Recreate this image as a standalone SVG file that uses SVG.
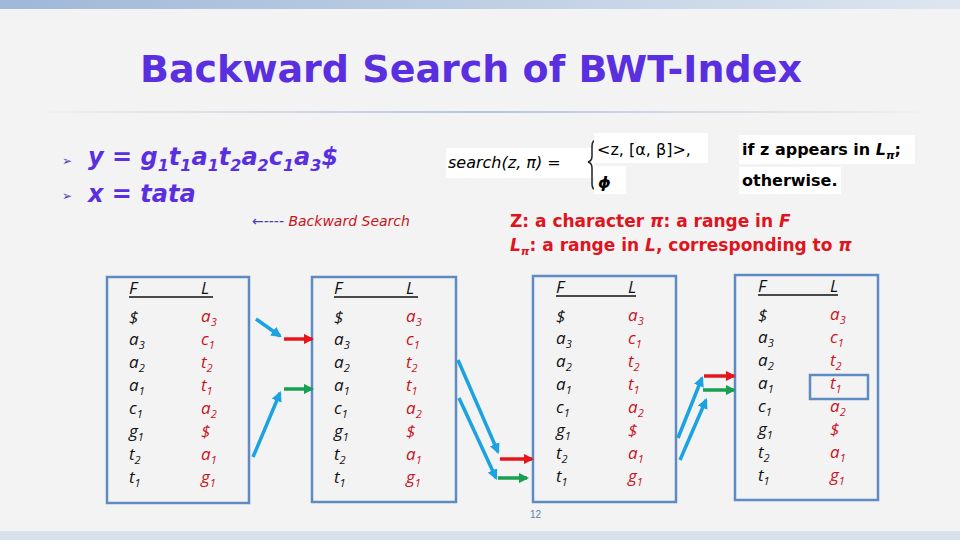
<svg xmlns="http://www.w3.org/2000/svg" width="960" height="540" viewBox="0 0 960 540">
<defs>
<linearGradient id="top" x1="0" x2="1"><stop offset="0" stop-color="#9fb8d8"/><stop offset="1" stop-color="#dde6f0"/></linearGradient>
<linearGradient id="sep" x1="0" x2="1"><stop offset="0" stop-color="#f0f0f2"/><stop offset="0.5" stop-color="#b8c6d8"/><stop offset="1" stop-color="#f0f0f2"/></linearGradient>
<marker id="ab" viewBox="0 0 10 10" refX="8" refY="5" markerWidth="3" markerHeight="3" orient="auto"><path d="M0,0L10,5L0,10z" fill="#1aa3e0"/></marker>
<marker id="ar" viewBox="0 0 10 10" refX="8" refY="5" markerWidth="3" markerHeight="3" orient="auto"><path d="M0,0L10,5L0,10z" fill="#e8141c"/></marker>
<marker id="ag" viewBox="0 0 10 10" refX="8" refY="5" markerWidth="3" markerHeight="3" orient="auto"><path d="M0,0L10,5L0,10z" fill="#16a050"/></marker>
</defs>
<style>
.tb{fill:none;stroke:#5f8ac4;stroke-width:2.5}
.c{font-family:"Open Sans","DejaVu Sans",sans-serif;font-size:17px;font-style:italic}
.f{fill:#111}
.l{fill:#c8141c}
.s{font-size:11px}
.bl{stroke:#1aa3e0;stroke-width:3.5;fill:none}
.rd{stroke:#e8141c;stroke-width:3.5;fill:none}
.gr{stroke:#16a050;stroke-width:3.5;fill:none}
.v{font-family:"DejaVu Sans",sans-serif;font-weight:bold}
</style>
<rect width="960" height="540" fill="#f3f3f4"/>
<rect width="960" height="9" fill="url(#top)"/>
<rect y="531" width="960" height="9" fill="#d8e0ea"/>
<rect x="48" y="111" width="870" height="2" fill="url(#sep)"/>
<text x="140" y="82" textLength="662" lengthAdjust="spacingAndGlyphs" class="v" font-size="38" fill="#5a2fe0">Backward Search of BWT-Index</text>
<g fill="#4a3fb8" font-family="DejaVu Sans,sans-serif" font-size="12"><text x="62" y="165">➢</text><text x="62" y="200">➢</text></g>
<g class="v" font-style="italic" font-size="24" fill="#5a2fe0">
<text x="88" y="165">y = g<tspan font-size="16" dy="6">1</tspan><tspan dy="-6">t</tspan><tspan font-size="16" dy="6">1</tspan><tspan dy="-6">a</tspan><tspan font-size="16" dy="6">1</tspan><tspan dy="-6">t</tspan><tspan font-size="16" dy="6">2</tspan><tspan dy="-6">a</tspan><tspan font-size="16" dy="6">2</tspan><tspan dy="-6">c</tspan><tspan font-size="16" dy="6">1</tspan><tspan dy="-6">a</tspan><tspan font-size="16" dy="6">3</tspan><tspan dy="-6">$</tspan></text>
<text x="88" y="202">x = tata</text>
</g>
<text x="252" y="226" font-family="DejaVu Sans,sans-serif" font-size="14" font-style="italic" fill="#c8141c"><tspan fill="#4a3fb8">&#8592;----</tspan> Backward Search</text>
<g font-family="DejaVu Sans,sans-serif" font-weight="bold" font-size="16">
<rect x="446" y="148" width="148" height="30" fill="#fff"/>
<text x="448" y="168" font-style="italic" font-weight="normal">search(z, π) =</text>
<path d="M597,140 q-5,0 -5,6 v10 q0,5 -4,6 q4,1 4,6 v16 q0,6 5,6" fill="none" stroke="#222" stroke-width="1.5"/>
<rect x="594" y="133" width="114" height="30" fill="#fff"/>
<text x="597" y="155" font-weight="normal">&lt;z, [α, β]&gt;,</text>
<rect x="594" y="166" width="32" height="28" fill="#fff"/>
<text x="598" y="188" font-style="italic">ϕ</text>
<rect x="739" y="135" width="176" height="29" fill="#fff"/>
<text x="742" y="155">if z appears in <tspan font-style="italic">L<tspan font-size="11" dy="4">π</tspan></tspan><tspan dy="-4">;</tspan></text>
<rect x="739" y="167" width="102" height="27" fill="#fff"/>
<text x="742" y="186">otherwise.</text>
<g fill="#e0141c" font-size="17">
<text x="510" y="227">Z: a character <tspan font-style="italic">π</tspan>: a range in <tspan font-style="italic">F</tspan></text>
<text x="510" y="251"><tspan font-style="italic">L<tspan font-size="11" dy="4">π</tspan></tspan><tspan dy="-4">: a range in </tspan><tspan font-style="italic">L</tspan>, corresponding to <tspan font-style="italic">π</tspan></text>
</g>
</g>
<g id="t1" transform="translate(107,277)">
<rect class="tb" width="142" height="226"/>
<line x1="22" y1="20" x2="106" y2="20" stroke="#111" stroke-width="1.5"/>
<g class="c f"><text x="22" y="17">F</text><text x="22" y="46">$</text><text x="22" y="68">a<tspan class="s" dy="4">3</tspan></text><text x="22" y="91">a<tspan class="s" dy="4">2</tspan></text><text x="22" y="114">a<tspan class="s" dy="4">1</tspan></text><text x="22" y="137">c<tspan class="s" dy="4">1</tspan></text><text x="22" y="160">g<tspan class="s" dy="4">1</tspan></text><text x="22" y="183">t<tspan class="s" dy="4">2</tspan></text><text x="22" y="206">t<tspan class="s" dy="4">1</tspan></text><text x="94" y="17">L</text></g>
<g class="c l"><text x="94" y="45">a<tspan class="s" dy="4">3</tspan></text><text x="94" y="68">c<tspan class="s" dy="4">1</tspan></text><text x="94" y="91">t<tspan class="s" dy="4">2</tspan></text><text x="94" y="114">t<tspan class="s" dy="4">1</tspan></text><text x="94" y="137">a<tspan class="s" dy="4">2</tspan></text><text x="94" y="160">$</text><text x="94" y="183">a<tspan class="s" dy="4">1</tspan></text><text x="94" y="206">g<tspan class="s" dy="4">1</tspan></text></g>
</g>
<g id="t2" transform="translate(312,277)">
<rect class="tb" width="144" height="225"/>
<line x1="22" y1="20" x2="106" y2="20" stroke="#111" stroke-width="1.5"/>
<g class="c f"><text x="22" y="17">F</text><text x="22" y="46">$</text><text x="22" y="68">a<tspan class="s" dy="4">3</tspan></text><text x="22" y="91">a<tspan class="s" dy="4">2</tspan></text><text x="22" y="114">a<tspan class="s" dy="4">1</tspan></text><text x="22" y="137">c<tspan class="s" dy="4">1</tspan></text><text x="22" y="160">g<tspan class="s" dy="4">1</tspan></text><text x="22" y="183">t<tspan class="s" dy="4">2</tspan></text><text x="22" y="206">t<tspan class="s" dy="4">1</tspan></text><text x="94" y="17">L</text></g>
<g class="c l"><text x="94" y="45">a<tspan class="s" dy="4">3</tspan></text><text x="94" y="68">c<tspan class="s" dy="4">1</tspan></text><text x="94" y="91">t<tspan class="s" dy="4">2</tspan></text><text x="94" y="114">t<tspan class="s" dy="4">1</tspan></text><text x="94" y="137">a<tspan class="s" dy="4">2</tspan></text><text x="94" y="160">$</text><text x="94" y="183">a<tspan class="s" dy="4">1</tspan></text><text x="94" y="206">g<tspan class="s" dy="4">1</tspan></text></g>
</g>
<g id="t3" transform="translate(533,276)">
<rect class="tb" width="143" height="226"/>
<line x1="23" y1="20" x2="103" y2="20" stroke="#111" stroke-width="1.5"/>
<g class="c f"><text x="23" y="17">F</text><text x="23" y="46">$</text><text x="23" y="68">a<tspan class="s" dy="4">3</tspan></text><text x="23" y="91">a<tspan class="s" dy="4">2</tspan></text><text x="23" y="114">a<tspan class="s" dy="4">1</tspan></text><text x="23" y="137">c<tspan class="s" dy="4">1</tspan></text><text x="23" y="160">g<tspan class="s" dy="4">1</tspan></text><text x="23" y="183">t<tspan class="s" dy="4">2</tspan></text><text x="23" y="206">t<tspan class="s" dy="4">1</tspan></text><text x="95" y="17">L</text></g>
<g class="c l"><text x="95" y="45">a<tspan class="s" dy="4">3</tspan></text><text x="95" y="68">c<tspan class="s" dy="4">1</tspan></text><text x="95" y="91">t<tspan class="s" dy="4">2</tspan></text><text x="95" y="114">t<tspan class="s" dy="4">1</tspan></text><text x="95" y="137">a<tspan class="s" dy="4">2</tspan></text><text x="95" y="160">$</text><text x="95" y="183">a<tspan class="s" dy="4">1</tspan></text><text x="95" y="206">g<tspan class="s" dy="4">1</tspan></text></g>
</g>
<g id="t4" transform="translate(735,275)">
<rect class="tb" width="143" height="225"/>
<line x1="23" y1="20" x2="103" y2="20" stroke="#111" stroke-width="1.5"/>
<rect class="tb" x="75" y="100" width="58" height="24"/>
<g class="c f"><text x="23" y="17">F</text><text x="23" y="46">$</text><text x="23" y="68">a<tspan class="s" dy="4">3</tspan></text><text x="23" y="91">a<tspan class="s" dy="4">2</tspan></text><text x="23" y="114">a<tspan class="s" dy="4">1</tspan></text><text x="23" y="137">c<tspan class="s" dy="4">1</tspan></text><text x="23" y="160">g<tspan class="s" dy="4">1</tspan></text><text x="23" y="183">t<tspan class="s" dy="4">2</tspan></text><text x="23" y="206">t<tspan class="s" dy="4">1</tspan></text><text x="95" y="17">L</text></g>
<g class="c l"><text x="95" y="45">a<tspan class="s" dy="4">3</tspan></text><text x="95" y="68">c<tspan class="s" dy="4">1</tspan></text><text x="95" y="91">t<tspan class="s" dy="4">2</tspan></text><text x="95" y="114">t<tspan class="s" dy="4">1</tspan></text><text x="95" y="137">a<tspan class="s" dy="4">2</tspan></text><text x="95" y="160">$</text><text x="95" y="183">a<tspan class="s" dy="4">1</tspan></text><text x="95" y="206">g<tspan class="s" dy="4">1</tspan></text></g>
</g>
<g id="connectors">
<line class="bl" x1="256" y1="319" x2="280" y2="336" marker-end="url(#ab)"/>
<line class="rd" x1="284" y1="339" x2="312" y2="339" marker-end="url(#ar)"/>
<line class="bl" x1="253" y1="457" x2="280" y2="393" marker-end="url(#ab)"/>
<line class="gr" x1="284" y1="389" x2="312" y2="389" marker-end="url(#ag)"/>
<line class="bl" x1="458" y1="360" x2="498" y2="452" marker-end="url(#ab)"/>
<line class="bl" x1="459" y1="398" x2="496" y2="478" marker-end="url(#ab)"/>
<line class="rd" x1="500" y1="459" x2="532" y2="459" marker-end="url(#ar)"/>
<line class="gr" x1="498" y1="478" x2="527" y2="478" marker-end="url(#ag)"/>
<line class="bl" x1="678" y1="438" x2="702" y2="378" marker-end="url(#ab)"/>
<line class="bl" x1="680" y1="460" x2="706" y2="400" marker-end="url(#ab)"/>
<line class="rd" x1="704" y1="376" x2="734" y2="376" marker-end="url(#ar)"/>
<line class="gr" x1="703" y1="390" x2="734" y2="390" marker-end="url(#ag)"/>
</g>
<text x="530" y="518" font-family="Liberation Sans,sans-serif" font-size="10" fill="#5f7fa8">12</text>
</svg>
